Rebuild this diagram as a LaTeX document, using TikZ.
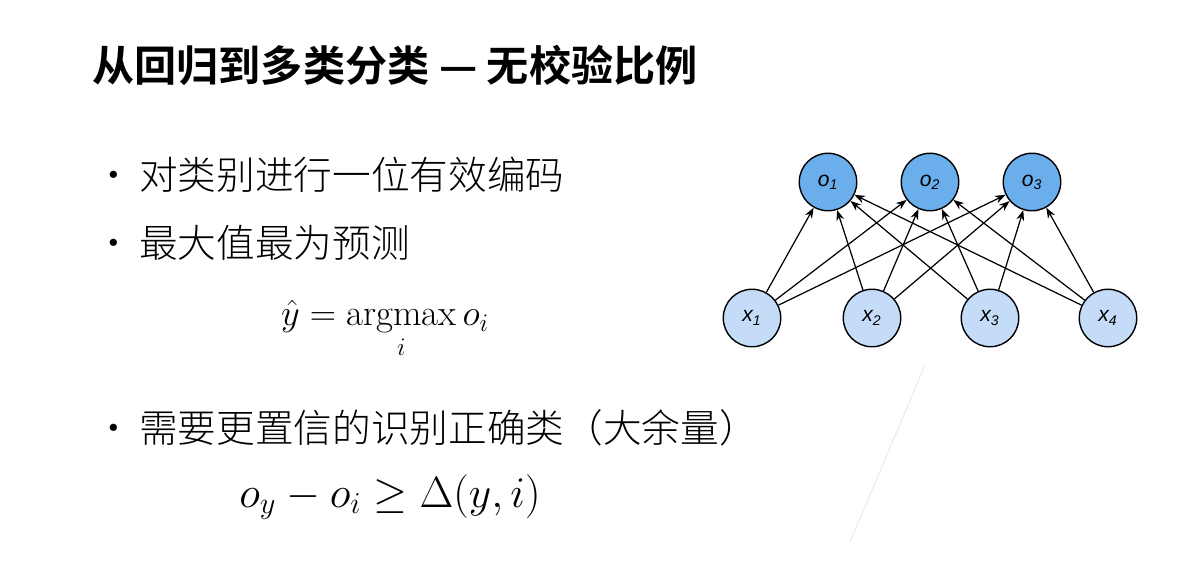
\documentclass[tikz,border=0pt]{standalone}
\usepackage{fontspec}
\usepackage{amsmath}
\newfontfamily\cjk{Noto Sans CJK SC Light}
\newfontfamily\cjkb{Noto Sans CJK SC Bold}
\setsansfont{Liberation Sans}
\usetikzlibrary{arrows.meta}
\definecolor{outblue}{HTML}{6AAEEB}
\definecolor{inblue}{HTML}{C5DCF8}
\tikzset{
    neuron/.style={circle,draw,line width=0.8pt,minimum size=1.15cm,inner sep=0pt,font=\sffamily\itshape\large},
    outneuron/.style={neuron,fill=outblue},
    inneuron/.style={neuron,fill=inblue},
    link/.style={-{Stealth[length=6pt]},line width=0.7pt},
    bullet/.style={anchor=west,font=\cjk\fontsize{22}{26}\selectfont}
}
\begin{document}
\begin{tikzpicture}[x=0.02cm,y=-0.02cm]
    \useasboundingbox[fill=white] (0,0) rectangle (1177,566);
    % title
    \node[anchor=west,font=\cjkb\fontsize{24}{28}\selectfont] (title) at (86,65) {从回归到多类分类 — 无校验比例};
    % bullets
    \node[bullet] (b1) at (88,175) {·\,对类别进行一位有效编码};
    \node[bullet] (b2) at (88,243) {·\,最大值最为预测};
    \node[font=\fontsize{21}{25}\selectfont] (f1) at (385,330) {$\hat{y} = \operatorname*{argmax}\limits_i o_i$};
    \node[bullet] (b3) at (88,428) {·\,需要更置信的识别正确类（大余量）};
    \node[font=\fontsize{24}{28}\selectfont] (f2) at (390,497) {$o_y - o_i \geq \Delta(y,i)$};
    % network
    \node[outneuron] (o1) at (828,182) {o\textsubscript{1}};
    \node[outneuron] (o2) at (930,182) {o\textsubscript{2}};
    \node[outneuron] (o3) at (1032,182) {o\textsubscript{3}};
    \node[inneuron] (x1) at (752,318) {x\textsubscript{1}};
    \node[inneuron] (x2) at (872,318) {x\textsubscript{2}};
    \node[inneuron] (x3) at (990,318) {x\textsubscript{3}};
    \node[inneuron] (x4) at (1108,318) {x\textsubscript{4}};
    \foreach \i in {1,...,4}
        \foreach \j in {1,2,3}
            \draw[link] (x\i) -- (o\j);
    % faint line
    \coordinate (fa) at (925,365);
    \coordinate (fb) at (850,542);
    \draw[black!8,line width=0.6pt] (fa) -- (fb);
\end{tikzpicture}
\end{document}
